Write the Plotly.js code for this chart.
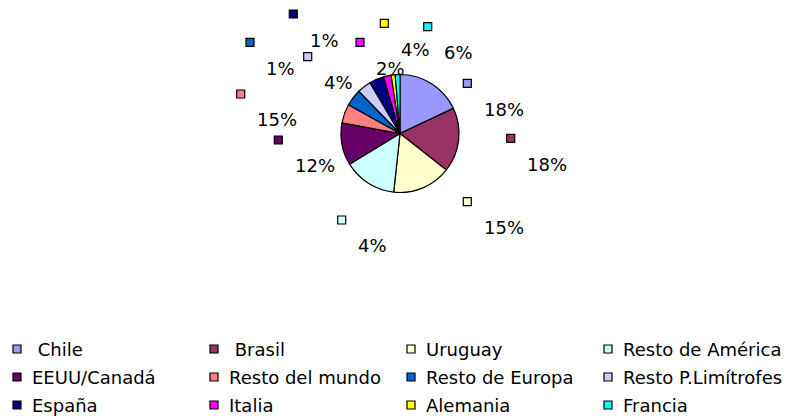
<!DOCTYPE html>
<html>
<head>
<meta charset="utf-8">
<script src="https://cdn.plot.ly/plotly-3.0.1.min.js"></script>
<style>
  html, body { margin: 0; padding: 0; background: #ffffff; }
  #chart { width: 788px; height: 418px; }
</style>
</head>
<body>
<div id="chart"></div>
<script>
// ---- data ----
var categories = [' Chile', ' Brasil', 'Uruguay', 'Resto de América',
                  'EEUU/Canadá', 'Resto del mundo', 'Resto de Europa', 'Resto P.Limítrofes',
                  'España', 'Italia', 'Alemania', 'Francia'];
// slice shares
var shares = [18.0, 17.6, 16.1, 14.6, 11.6, 5.2, 4.6, 3.8, 4.0, 2.1, 1.1, 1.3];
// percentage labels as printed next to each key
var shownPct = [18, 18, 15, 4, 12, 15, 1, 4, 1, 2, 4, 6];
var colors = ['#9999FF', '#993366', '#FFFFCC', '#CCFFFF',
              '#660066', '#FF8080', '#0066CC', '#CCCCFF',
              '#000080', '#FF00FF', '#FFFF00', '#00FFFF'];

// ---- layout (pixel positions, not data) ----
var W = 788, H = 418;
var pieCx = 400, pieCy = 133.5, pieR = 59;
// key positions of the data labels (pixels)
var labelKeyPos = [[467.3, 83.3], [510.7, 138.3], [467.3, 201.7], [341.7, 220],
                   [278.3, 140], [240.7, 94], [250, 42.3], [307.7, 56.7],
                   [293.3, 14], [360, 42.3], [384.3, 23.3], [427.7, 26.7]];
var labelTextDx = 14.3, labelTextDy = 26;
var legendCol0 = 17, legendColStep = 197, legendRow0 = 349, legendRowStep = 28, legendCols = 4;
var legendTextDx = 12.5;
var keyHalf = 4;
var FONT = 'DejaVu Sans, Verdana, sans-serif';

function px(x) { return x / W; }
function py(y) { return 1 - y / H; }

var shapes = [];
var annotations = [];

function addKey(cx, cy, color) {
  shapes.push({
    type: 'rect', xref: 'paper', yref: 'paper',
    x0: px(cx - keyHalf), x1: px(cx + keyHalf),
    y0: py(cy + keyHalf), y1: py(cy - keyHalf),
    fillcolor: color, line: {color: '#000000', width: 1.2}
  });
}

// data labels with legend keys
for (var i = 0; i < categories.length; i++) {
  var p = labelKeyPos[i];
  addKey(p[0], p[1], colors[i]);
  annotations.push({
    xref: 'paper', yref: 'paper', x: px(p[0] + labelTextDx), y: py(p[1] + labelTextDy),
    xanchor: 'left', yanchor: 'middle', showarrow: false,
    text: shownPct[i] + '%', font: {family: FONT, size: 18, color: '#000000'}
  });
}

// legend grid
for (var j = 0; j < categories.length; j++) {
  var col = j % legendCols, row = Math.floor(j / legendCols);
  var kx = legendCol0 + col * legendColStep, ky = legendRow0 + row * legendRowStep;
  addKey(kx, ky, colors[j]);
  annotations.push({
    xref: 'paper', yref: 'paper', x: px(kx + legendTextDx), y: py(ky),
    xanchor: 'left', yanchor: 'middle', showarrow: false,
    text: categories[j].replace(/^ /, '\u00A0'),
    font: {family: FONT, size: 18, color: '#000000'}
  });
}

var trace = {
  type: 'pie',
  labels: categories,
  values: shares,
  sort: false,
  direction: 'clockwise',
  rotation: 0,
  textinfo: 'none',
  hoverinfo: 'label+percent',
  showlegend: false,
  marker: {colors: colors, line: {color: '#000000', width: 1.2}},
  domain: {x: [px(pieCx - pieR), px(pieCx + pieR)], y: [py(pieCy + pieR), py(pieCy - pieR)]}
};

var layout = {
  width: W, height: H, autosize: false,
  margin: {l: 0, r: 0, t: 0, b: 0, pad: 0},
  paper_bgcolor: '#ffffff', plot_bgcolor: '#ffffff',
  showlegend: false,
  font: {family: FONT, size: 18, color: '#000000'},
  shapes: shapes,
  annotations: annotations
};

Plotly.newPlot('chart', [trace], layout, {displayModeBar: false, staticPlot: true});
</script>
</body>
</html>
